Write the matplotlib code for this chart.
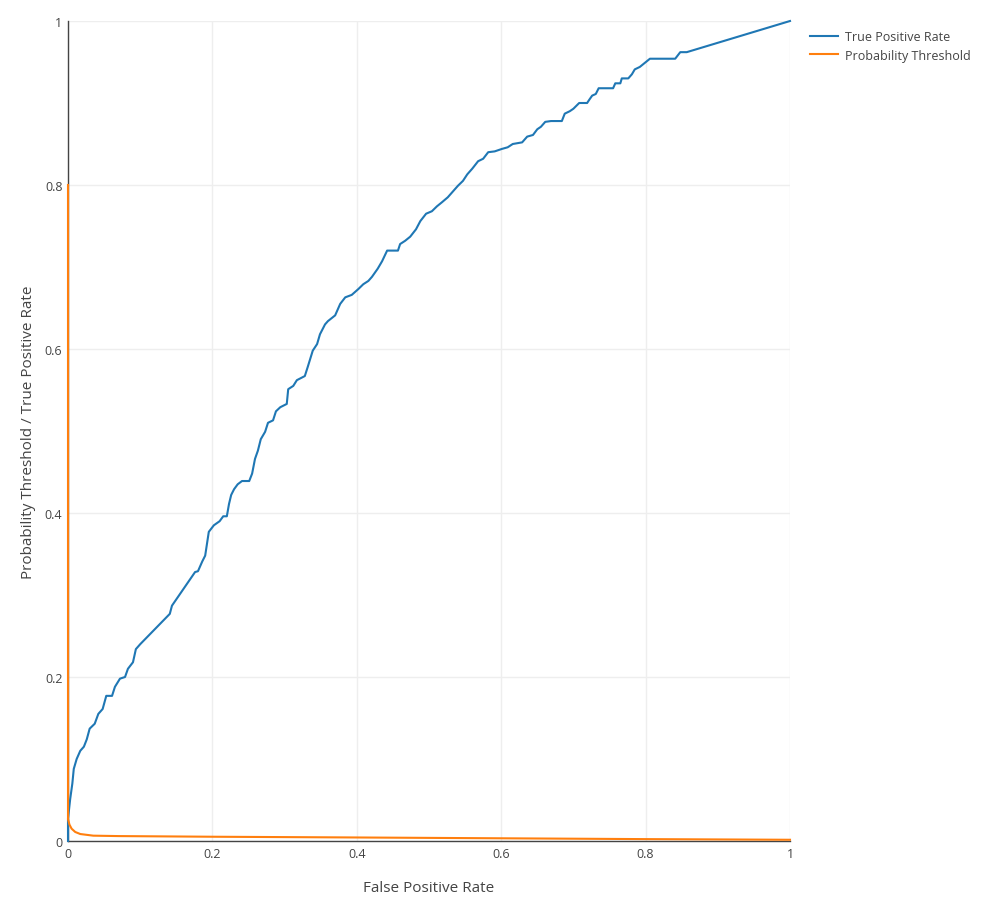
import matplotlib
matplotlib.use("Agg")
import matplotlib.pyplot as plt

plt.rcParams['font.family'] = ['Open Sans', 'DejaVu Sans']

# ROC curve
fpr = [0, 0, 0.003, 0.006, 0.008, 0.012, 0.017, 0.022, 0.026, 0.030, 0.037, 0.042,
       0.048, 0.053, 0.061, 0.065, 0.072, 0.079, 0.083, 0.090, 0.094, 0.100, 0.141,
       0.144, 0.176, 0.180, 0.186, 0.190, 0.195, 0.202, 0.210, 0.215, 0.220, 0.223,
       0.226, 0.230, 0.235, 0.241, 0.251, 0.255, 0.259, 0.263, 0.267, 0.273, 0.277,
       0.284, 0.288, 0.294, 0.303, 0.305, 0.312, 0.317, 0.328, 0.332, 0.339, 0.345,
       0.349, 0.356, 0.360, 0.370, 0.377, 0.384, 0.393, 0.402, 0.409, 0.416, 0.421,
       0.429, 0.435, 0.442, 0.457, 0.460, 0.467, 0.474, 0.482, 0.488, 0.496, 0.504,
       0.511, 0.518, 0.526, 0.532, 0.540, 0.547, 0.553, 0.560, 0.568, 0.575, 0.582,
       0.591, 0.601, 0.609, 0.616, 0.629, 0.636, 0.644, 0.650, 0.655, 0.661, 0.669,
       0.684, 0.688, 0.695, 0.700, 0.708, 0.719, 0.722, 0.726, 0.731, 0.735, 0.755,
       0.758, 0.765, 0.767, 0.776, 0.781, 0.785, 0.792, 0.806, 0.841, 0.848, 0.857, 1.0]
tpr = [0, 0.027, 0.051, 0.070, 0.088, 0.100, 0.110, 0.115, 0.124, 0.137, 0.143, 0.155,
       0.161, 0.177, 0.177, 0.188, 0.198, 0.200, 0.210, 0.218, 0.234, 0.240, 0.277,
       0.287, 0.328, 0.329, 0.341, 0.348, 0.377, 0.385, 0.390, 0.396, 0.396, 0.411,
       0.422, 0.429, 0.435, 0.439, 0.439, 0.448, 0.466, 0.476, 0.490, 0.499, 0.510,
       0.513, 0.524, 0.529, 0.533, 0.551, 0.555, 0.562, 0.567, 0.578, 0.598, 0.606,
       0.618, 0.630, 0.634, 0.641, 0.655, 0.663, 0.666, 0.673, 0.679, 0.683, 0.688,
       0.698, 0.707, 0.720, 0.720, 0.728, 0.732, 0.737, 0.746, 0.756, 0.765, 0.768,
       0.774, 0.779, 0.785, 0.791, 0.799, 0.805, 0.813, 0.820, 0.829, 0.832, 0.840,
       0.841, 0.844, 0.846, 0.850, 0.852, 0.859, 0.861, 0.868, 0.871, 0.877, 0.878,
       0.878, 0.887, 0.890, 0.893, 0.900, 0.900, 0.904, 0.909, 0.911, 0.918, 0.918,
       0.924, 0.924, 0.930, 0.930, 0.935, 0.941, 0.944, 0.954, 0.954, 0.962, 0.962, 1.0]

# probability threshold against FPR
thr_fpr = [0, 0, 0.002, 0.005, 0.010, 0.017, 0.035, 0.070, 0.200, 0.400, 0.600, 0.800, 1.0]
thr = [0.80, 0.027, 0.020, 0.015, 0.011, 0.0085, 0.0065, 0.006, 0.0052, 0.0043, 0.0033, 0.0023, 0.0015]

fig = plt.figure(figsize=(9.85, 9.03), dpi=100)
ax = fig.add_axes([68 / 985, 61 / 903, 722 / 985, 820 / 903])

ax.plot(fpr, tpr, color='#1f77b4', lw=1.5, label='True Positive Rate', clip_on=False, zorder=3)
ax.plot(thr_fpr, thr, color='#ff7f0e', lw=1.5, label='Probability Threshold', clip_on=False, zorder=4)

ax.set_xlim(0, 1)
ax.set_ylim(0, 1)
ticks = [0, 0.2, 0.4, 0.6, 0.8, 1]
labels = ['0', '0.2', '0.4', '0.6', '0.8', '1']
ax.set_xticks(ticks)
ax.set_xticklabels(labels)
ax.set_yticks(ticks)
ax.set_yticklabels(labels)
ax.tick_params(length=0, labelsize=9, colors='#444444', pad=4)
ax.grid(True, color='#eeeeee', lw=1)
ax.set_axisbelow(True)
for s in ['top', 'right']:
    ax.spines[s].set_visible(False)
for s in ['left', 'bottom']:
    ax.spines[s].set_color('#444444')
    ax.spines[s].set_linewidth(1)

ax.set_xlabel('False Positive Rate', fontsize=11, color='#444444', labelpad=15)
ax.set_ylabel('Probability Threshold / True Positive Rate', fontsize=11, color='#444444', labelpad=6)

fig.legend(loc='upper left', bbox_to_anchor=(805 / 985, 1 - 26 / 903), frameon=False,
           fontsize=9, handlelength=2.2, labelcolor='#444444', borderaxespad=0,
           labelspacing=0.45, handletextpad=0.6)

fig.savefig('out.png', dpi=100)
